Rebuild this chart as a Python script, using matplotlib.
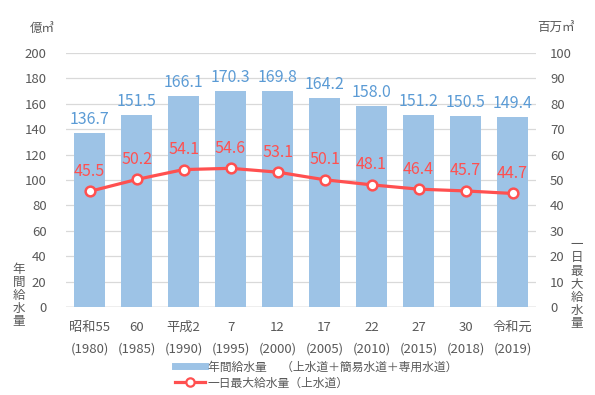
import matplotlib
matplotlib.use("Agg")
import matplotlib.pyplot as plt
from matplotlib.lines import Line2D

plt.rcParams['font.family'] = ['Noto Sans CJK JP', 'DejaVu Sans']

categories = ["昭和55\n(1980)", "60\n(1985)", "平成2\n(1990)", "7\n(1995)", "12\n(2000)",
              "17\n(2005)", "22\n(2010)", "27\n(2015)", "30\n(2018)", "令和元\n(2019)"]
annual = [136.7, 151.5, 166.1, 170.3, 169.8, 164.2, 158.0, 151.2, 150.5, 149.4]
daily_max = [45.5, 50.2, 54.1, 54.6, 53.1, 50.1, 48.1, 46.4, 45.7, 44.7]

bar_color = "#9DC3E6"
bar_label_color = "#5B9BD5"
line_color = "#FF5050"
tick_color = "#595959"
grid_color = "#D9D9D9"

fig = plt.figure(figsize=(5.95, 3.95), dpi=100)
ax = fig.add_axes([66/595, 1-307/395, 470/595, 254/395])
ax2 = ax.twinx()

x = list(range(len(categories)))
ax.bar(x, annual, width=0.66, color=bar_color, zorder=2)
for xi, v in zip(x, annual):
    ax.text(xi, v + 4, f"{v:.1f}", ha="center", va="bottom", fontsize=11.5,
            color=bar_label_color)

ax.set_xlim(-0.5, len(categories) - 0.5)
ax.set_ylim(0, 200)
ax.set_yticks(range(0, 201, 20))
ax.set_xticks(x)
ax.set_xticklabels(categories, fontsize=9.5, color=tick_color, linespacing=1.85)
ax.tick_params(axis="both", length=0, labelsize=9.5, colors=tick_color)
ax.tick_params(axis="y", pad=14)
ax.tick_params(axis="x", pad=10)
ax.grid(axis="y", color=grid_color, linewidth=0.9, zorder=0)
ax.set_axisbelow(True)
for s in ax.spines.values():
    s.set_visible(False)
ax.axhline(0, color="#BFBFBF", linewidth=1.0, zorder=1)

ax2.plot(x, daily_max, color=line_color, linewidth=2.3, marker="o", markersize=7,
         markerfacecolor="white", markeredgecolor=line_color, markeredgewidth=1.8, zorder=3)
for xi, v in zip(x, daily_max):
    ax2.text(xi, v + 4.5, f"{v:.1f}", ha="center", va="bottom", fontsize=11.5,
             color=line_color)
ax2.set_ylim(0, 100)
ax2.set_yticks(range(0, 101, 10))
ax2.tick_params(axis="y", length=0, labelsize=9.5, colors=tick_color, pad=10)
for s in ax2.spines.values():
    s.set_visible(False)

fig.text(30/595, 1-28/395, "億㎥", fontsize=9, color=tick_color, va="center", ha="left")
fig.text(537/595, 1-28/395, "百万㎥", fontsize=9, color=tick_color, va="center", ha="left")
fig.text(19/595, 1-295/395, "\n".join("年間給水量"), fontsize=9, color=tick_color,
         va="center", ha="center", linespacing=1.0)
fig.text(577/595, 1-284/395, "\n".join("一日最大給水量"), fontsize=9, color=tick_color,
         va="center", ha="center", linespacing=1.0)

handles = [Line2D([0], [0], color=bar_color, linewidth=5),
           Line2D([0], [0], color=line_color, linewidth=2.3, marker="o", markersize=6,
                  markerfacecolor="white", markeredgecolor=line_color, markeredgewidth=1.6)]
labels = ["年間給水量　 （上水道＋簡易水道＋専用水道）", "一日最大給水量（上水道）"]
leg = fig.legend(handles, labels, loc="center", bbox_to_anchor=(316/595, 1-375/395),
                 frameon=False, fontsize=8.5, handlelength=2.6, handletextpad=0.2,
                 labelspacing=0.25, borderpad=0)
for t in leg.get_texts():
    t.set_color(tick_color)
leg._legend_box.align = "left"

fig.savefig("out.png", dpi=100)
